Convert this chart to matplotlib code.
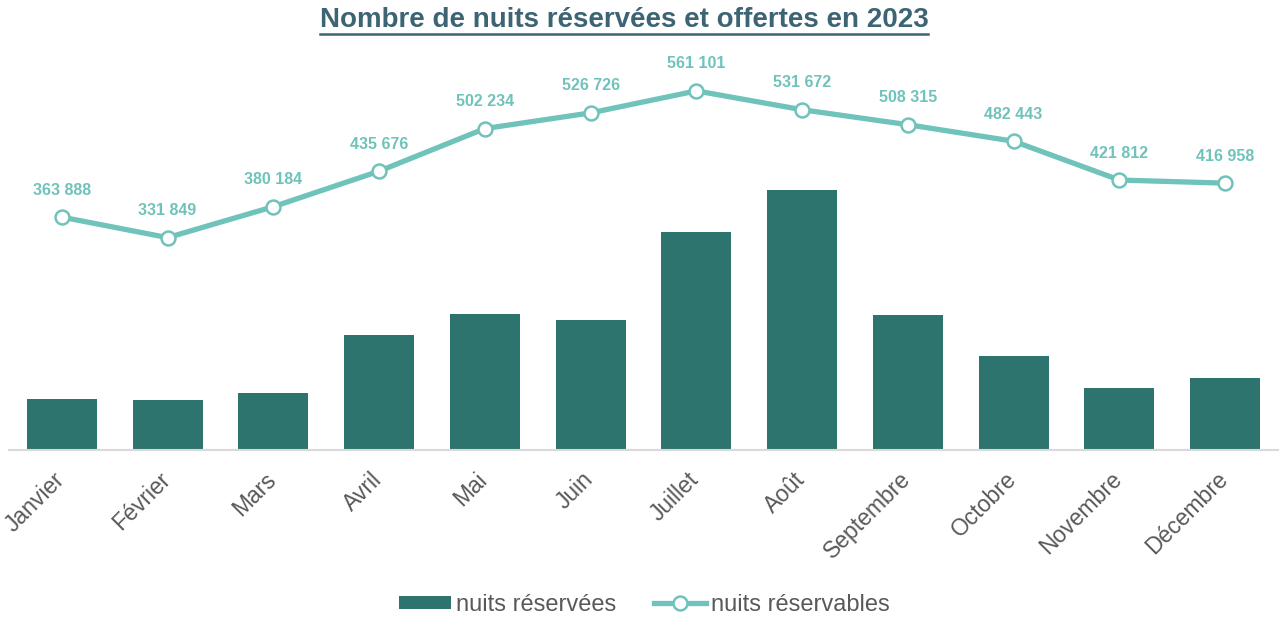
import matplotlib
matplotlib.use("Agg")
import matplotlib.pyplot as plt
import matplotlib.transforms as mtransforms
from matplotlib.lines import Line2D
from matplotlib.patches import Patch

months = ["Janvier", "Février", "Mars", "Avril", "Mai", "Juin", "Juillet",
          "Août", "Septembre", "Octobre", "Novembre", "Décembre"]
nuits_reservees = [79700, 78000, 89000, 180000, 212500, 203000, 340600,
                   406000, 211000, 147000, 97000, 112500]
nuits_reservables = [363888, 331849, 380184, 435676, 502234, 526726, 561101,
                     531672, 508315, 482443, 421812, 416958]

bar_color = "#2e746e"
line_color = "#6fc3bb"
text_grey = "#595959"

plt.rcParams['font.family'] = ['Liberation Sans', 'DejaVu Sans']

fig = plt.figure(figsize=(12.82, 6.2), dpi=100)
ax = fig.add_axes([9/1282, 1 - 450/620, 1269/1282, 400/620])

x = list(range(len(months)))
ax.bar(x, nuits_reservees, width=0.66, color=bar_color, zorder=2)
ax.plot(x, nuits_reservables, color=line_color, lw=3.8, marker="o",
        markersize=10, markerfacecolor="white", markeredgecolor=line_color,
        markeredgewidth=1.8, zorder=3)

def fmt(v):
    return f"{v:,}".replace(",", " ")

for xi, v in zip(x, nuits_reservables):
    ax.annotate(fmt(v), (xi, v), xytext=(0, 14), textcoords="offset points",
                ha="center", va="bottom", color=line_color, fontsize=11.5,
                fontweight="bold")

ax.set_xlim(-0.5, len(months) - 0.5)
ax.set_ylim(0, 625000)
ax.set_yticks([])
for s in ["top", "right", "left"]:
    ax.spines[s].set_visible(False)
ax.spines["bottom"].set_color("#d9d9d9")
ax.spines["bottom"].set_linewidth(1.5)
ax.set_xticks(x)
ax.set_xticklabels(months, rotation=45, ha="right", rotation_mode="anchor",
                   fontsize=16.5, color=text_grey)
ax.tick_params(axis="x", length=0, pad=10)
offset = mtransforms.ScaledTranslation(-9/100, -4/100, fig.dpi_scale_trans)
for lbl in ax.get_xticklabels():
    lbl.set_transform(lbl.get_transform() + offset)

title = fig.text(624/1282, 1 - 20/620, "Nombre de nuits réservées et offertes en 2023",
                 ha="center", va="center", fontsize=20, fontweight="bold",
                 color="#3d6474")
fig.canvas.draw()
bb = title.get_window_extent(fig.canvas.get_renderer())
inv = fig.transFigure.inverted()
(x0, y0), (x1, y1) = inv.transform([[bb.x0, bb.y0], [bb.x1, bb.y1]])
fig.add_artist(Line2D([x0, x1], [y0 - 0.002, y0 - 0.002], color="#3d6474",
                      lw=1.8, transform=fig.transFigure))

handles = [Patch(facecolor=bar_color, label="nuits réservées"),
           Line2D([0], [0], color=line_color, lw=3.8, marker="o", markersize=10,
                  markerfacecolor="white", markeredgecolor=line_color,
                  markeredgewidth=1.8, label="nuits réservables")]
fig.legend(handles=handles, loc="center", bbox_to_anchor=(0.5025, 1 - 605/620),
           ncol=2, frameon=False, fontsize=17, labelcolor=text_grey,
           handlelength=2.2, handleheight=0.5, columnspacing=1.6,
           handletextpad=0.2)

fig.savefig("out.png", dpi=100, facecolor="white")
